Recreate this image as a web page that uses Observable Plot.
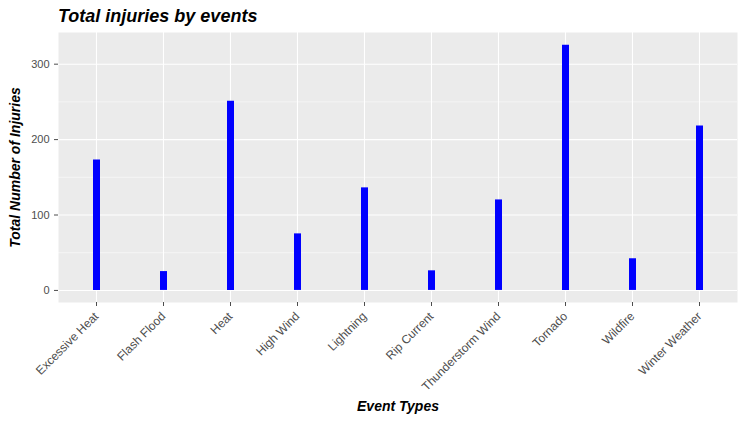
<!DOCTYPE html>
<html><head><meta charset="utf-8">
<script src="https://cdn.jsdelivr.net/npm/d3@7"></script>
<script src="https://cdn.jsdelivr.net/npm/@observablehq/plot@0.6"></script>
<style>
body{margin:0;background:#fff;font-family:Arial,"Liberation Sans",sans-serif}
#title{height:30px;line-height:32px;padding-left:58px;font-size:18px;font-weight:bold;font-style:italic;color:#000}
</style></head><body>
<div id="title">Total injuries by events</div>
<div id="chart"></div>
<script>
const events = ['Excessive Heat','Flash Flood','Heat','High Wind','Lightning','Rip Current','Thunderstorm Wind','Tornado','Wildfire','Winter Weather'];
const injuries = [173, 25, 251, 75, 136, 26, 120, 325, 42, 218];
const data = events.map((e, i) => ({event: e, injuries: injuries[i]}));

const chart = Plot.plot({
  width: 745, height: 394,
  marginTop: 2, marginLeft: 58, marginRight: 8, marginBottom: 122,
  style: {background: '#fff', fontFamily: 'Arial, "Liberation Sans", sans-serif', fontSize: '11px'},
  x: {type: 'point', domain: events, padding: 0.56, label: null, tickRotate: -45, tickSize: 4},
  y: {domain: [-16, 342], ticks: [0, 100, 200, 300], label: null, tickSize: 4},
  marks: [
    Plot.frame({fill: '#ebebeb', stroke: null}),
    Plot.gridY([50, 150, 250], {stroke: '#fff', strokeOpacity: 1, strokeWidth: 0.5}),
    Plot.gridY([0, 100, 200, 300], {stroke: '#fff', strokeOpacity: 1, strokeWidth: 1.1}),
    Plot.gridX(events, {stroke: '#fff', strokeOpacity: 1, strokeWidth: 1.1}),
    Plot.ruleX(data, {x: 'event', y1: 0, y2: 'injuries', stroke: '#0000ff', strokeWidth: 7}),
    Plot.axisX({tickRotate: -45, color: '#4d4d4d', tickSize: 4, fontSize: 12, label: null}),
    Plot.axisY({ticks: [0, 100, 200, 300], color: '#4d4d4d', tickSize: 4, fontSize: 11, label: null}),
    Plot.text(['Event Types'], {frameAnchor: 'bottom', dy: 108, fontSize: 14, fontWeight: 'bold', fontStyle: 'italic', fill: '#000'}),
    Plot.text(['Total Number of Injuries'], {frameAnchor: 'left', textAnchor: 'middle', dx: -43, rotate: -90, fontSize: 14, fontWeight: 'bold', fontStyle: 'italic', fill: '#000'})
  ]
});
document.getElementById('chart').appendChild(chart);
</script></body></html>
